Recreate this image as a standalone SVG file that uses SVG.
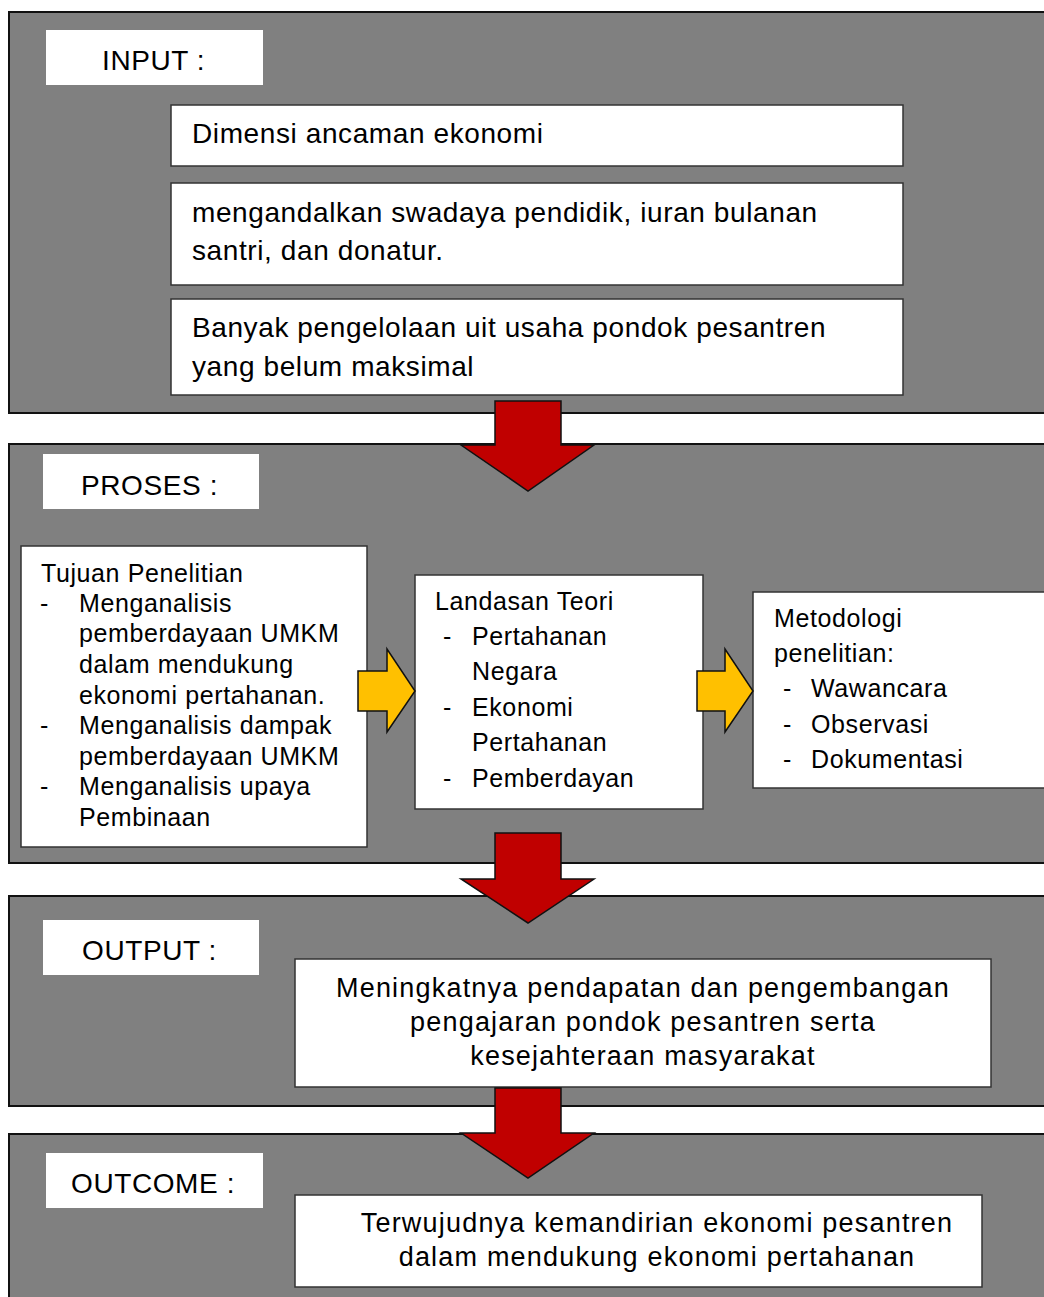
<svg xmlns="http://www.w3.org/2000/svg" width="1044" height="1297" viewBox="0 0 1044 1297">
<style>
.panel{fill:#808080;stroke:#111;stroke-width:2}
.label{fill:#fff}
.box{fill:#fff;stroke:#333;stroke-width:1.5}
.red{fill:#C00000;stroke:#111;stroke-width:1.5;stroke-linejoin:miter}
.yel{fill:#FFC000;stroke:#111;stroke-width:1.5}
text{font-family:"Liberation Sans",Arial,sans-serif;fill:#000}
.t27{font-size:28px;letter-spacing:0.6px}
.t24{font-size:25px;letter-spacing:0.6px}
.t26{font-size:27px;letter-spacing:1.2px}
.mid{text-anchor:middle}
</style>
<rect width="1044" height="1297" fill="#fff"/>
<g id="panel-input"><rect class="panel" x="9" y="12" width="1045" height="401"/></g>
<g id="panel-proses"><rect class="panel" x="9" y="444" width="1045" height="419"/></g>
<g id="panel-output"><rect class="panel" x="9" y="896" width="1045" height="210"/></g>
<g id="panel-outcome"><rect class="panel" x="9" y="1134" width="1045" height="175"/></g>

<g id="label-input"><rect class="label" x="46" y="30" width="217" height="55"/><text class="t27" x="102" y="70">INPUT :</text></g>
<g id="input-1"><rect class="box" x="171" y="105" width="732" height="61"/><text class="t27" x="192" y="143">Dimensi ancaman ekonomi</text></g>
<g id="input-2"><rect class="box" x="171" y="183" width="732" height="102"/><text class="t27" x="192" y="222">mengandalkan swadaya pendidik, iuran bulanan</text><text class="t27" x="192" y="260">santri, dan donatur.</text></g>
<g id="input-3"><rect class="box" x="171" y="299" width="732" height="96"/><text class="t27" x="192" y="337">Banyak pengelolaan uit usaha pondok pesantren</text><text class="t27" x="192" y="376">yang belum maksimal</text></g>

<g id="label-proses"><rect class="label" x="43" y="454" width="216" height="55"/><text class="t27" x="81" y="495">PROSES :</text></g>
<g id="tujuan"><rect class="box" x="21" y="546" width="346" height="301"/>
<text class="t24" x="41" y="582">Tujuan Penelitian</text>
<text class="t24" x="40" y="612">-</text><text class="t24" x="79" y="612">Menganalisis</text>
<text class="t24" x="79" y="642">pemberdayaan UMKM</text>
<text class="t24" x="79" y="673">dalam mendukung</text>
<text class="t24" x="79" y="704">ekonomi pertahanan.</text>
<text class="t24" x="40" y="734">-</text><text class="t24" x="79" y="734">Menganalisis dampak</text>
<text class="t24" x="79" y="765">pemberdayaan UMKM</text>
<text class="t24" x="40" y="795">-</text><text class="t24" x="79" y="795">Menganalisis upaya</text>
<text class="t24" x="79" y="826">Pembinaan</text>
</g>
<g id="landasan"><rect class="box" x="415" y="575" width="288" height="234"/>
<text class="t24" x="435" y="610">Landasan Teori</text>
<text class="t24" x="443" y="645">-</text><text class="t24" x="472" y="645">Pertahanan</text>
<text class="t24" x="472" y="680">Negara</text>
<text class="t24" x="443" y="716">-</text><text class="t24" x="472" y="716">Ekonomi</text>
<text class="t24" x="472" y="751">Pertahanan</text>
<text class="t24" x="443" y="787">-</text><text class="t24" x="472" y="787">Pemberdayan</text>
</g>
<g id="metodologi"><rect class="box" x="753" y="592" width="300" height="196"/>
<text class="t24" x="774" y="627">Metodologi</text>
<text class="t24" x="774" y="662">penelitian:</text>
<text class="t24" x="783" y="697">-</text><text class="t24" x="811" y="697">Wawancara</text>
<text class="t24" x="783" y="733">-</text><text class="t24" x="811" y="733">Observasi</text>
<text class="t24" x="783" y="768">-</text><text class="t24" x="811" y="768">Dokumentasi</text>
</g>

<g id="label-output"><rect class="label" x="43" y="920" width="216" height="55"/><text class="t27" x="82" y="960">OUTPUT :</text></g>
<g id="output-box"><rect class="box" x="295" y="959" width="696" height="128"/>
<text class="t26 mid" x="643" y="997">Meningkatnya pendapatan dan pengembangan</text>
<text class="t26 mid" x="643" y="1031">pengajaran pondok pesantren serta</text>
<text class="t26 mid" x="643" y="1065">kesejahteraan masyarakat</text>
</g>

<g id="label-outcome"><rect class="label" x="46" y="1153" width="217" height="55"/><text class="t27" x="71" y="1193">OUTCOME :</text></g>
<g id="outcome-box"><rect class="box" x="295" y="1195" width="687" height="92"/>
<text class="t26 mid" x="657" y="1232">Terwujudnya kemandirian ekonomi pesantren</text>
<text class="t26 mid" x="657" y="1266">dalam mendukung ekonomi pertahanan</text>
</g>

<g id="connectors">
<polygon class="red" points="495,401 561,401 561,445 594,445 528,491 461,445 495,445"/>
<polygon class="red" points="495,833 561,833 561,879 594,879 528,923 461,879 495,879"/>
<polygon class="red" points="495,1088 561,1088 561,1133 594,1133 528,1178 461,1133 495,1133"/>
<polygon class="yel" points="358,671 387,671 387,649 415,691 387,732 387,711 358,711"/>
<polygon class="yel" points="697,671 725,671 725,649 753,691 725,732 725,711 697,711"/>
</g>
</svg>
